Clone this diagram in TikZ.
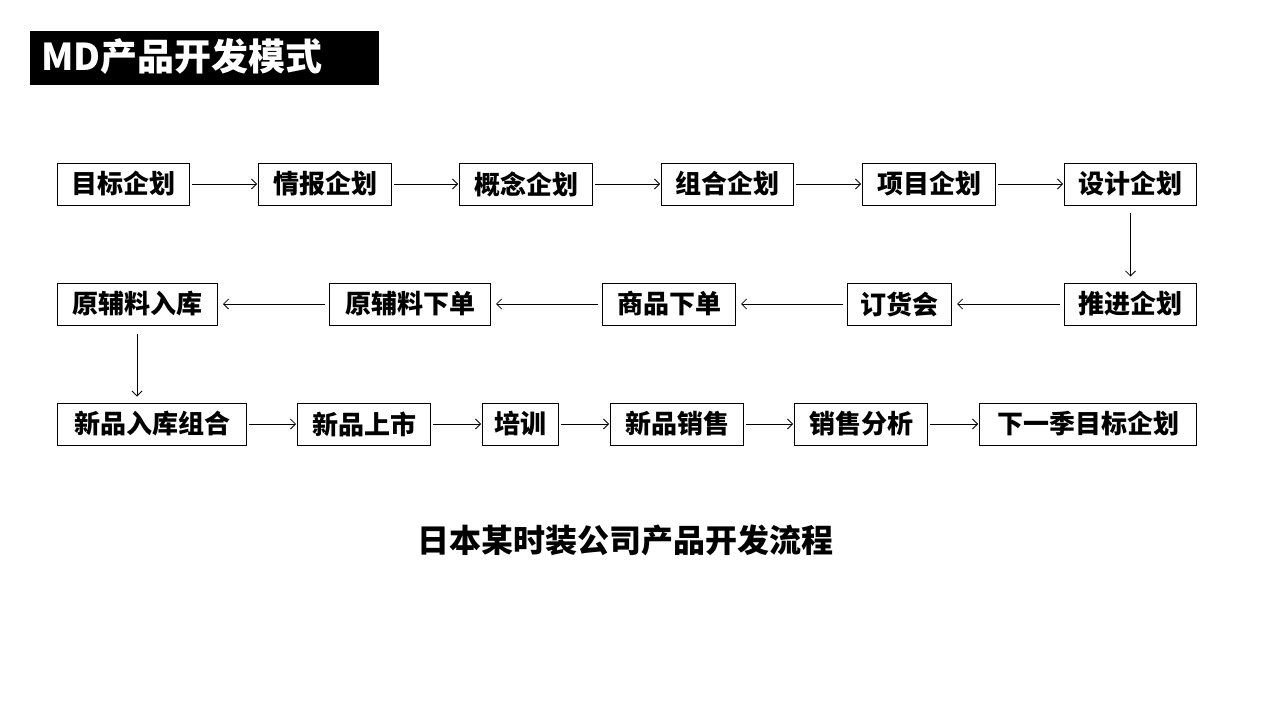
\documentclass[tikz,border=0pt]{standalone}
\usepackage{fontspec}
\newfontfamily\cjk{Noto Sans CJK SC}
\usetikzlibrary{arrows.meta}
\tikzset{every picture/.style={/utils/exec={\cjk}}}
\tikzset{
  stage/.style={draw, line width=1pt, anchor=west, inner xsep=0pt, inner ysep=0pt,
    minimum width=#1, minimum height=42pt, font=\fontsize{26}{26}\selectfont\bfseries},
  stage/.default=133pt,
  flow/.style={->, line width=0.8pt, >={Straight Barb[length=5pt,width=10pt]}}
}

\begin{document}
\begin{tikzpicture}[x=1pt, y=-1pt]
  \useasboundingbox (0,0) rectangle (1280,720);

  \fill [black] (30,31) rectangle (379,85);
  \node (title) [anchor=west, text=white, font=\fontsize{37}{37}\selectfont\bfseries] at (38,57) {MD产品开发模式};

  % first row
  \node (goal)   [stage=132pt] at (57,184)   {目标企划};
  \node (info)   [stage] at (258,184)  {情报企划};
  \node (idea)   [stage] at (459,184)  {概念企划};
  \node (combo)  [stage=132pt] at (661,184)  {组合企划};
  \node (item)   [stage] at (862,184)  {项目企划};
  \node (design) [stage=132pt] at (1064,184) {设计企划};

  % second row
  \node (stock)  [stage=160pt] at (57,304)   {原辅料入库};
  \node (order)  [stage=161pt] at (329,304)  {原辅料下单};
  \node (goods)  [stage] at (602,304)  {商品下单};
  \node (fair)   [stage=104pt] at (847,304)  {订货会};
  \node (push)   [stage=132pt] at (1064,304) {推进企划};

  % third row
  \node (newin)  [stage=189pt] at (57,424)   {新品入库组合};
  \node (launch) [stage] at (297,424)  {新品上市};
  \node (train)  [stage=76pt] at (482,424)  {培训};
  \node (sale)   [stage] at (610,424)  {新品销售};
  \node (review) [stage] at (794,424)  {销售分析};
  \node (next)   [stage=217pt] at (979,424) {下一季目标企划};

  \foreach \a/\b in {goal/info, info/idea, idea/combo, combo/item, item/design,
                     newin/launch, launch/train, train/sale, sale/review, review/next}
    \draw [flow, shorten <=2pt, shorten >=1pt] (\a) -- (\b);
  \foreach \a/\b in {push/fair, fair/goods, goods/order, order/stock}
    \draw [flow, shorten <=4pt, shorten >=5pt] (\a) -- (\b);
  \draw [flow, shorten <=7pt, shorten >=6pt] (design) -- (push);
  \draw [flow, shorten <=8pt, shorten >=6pt] (stock.south -| 137,0) -- (newin.north -| 137,0);

  \node (caption) [font=\fontsize{32}{32}\selectfont\bfseries] at (625,540) {日本某时装公司产品开发流程};
\end{tikzpicture}
\end{document}
